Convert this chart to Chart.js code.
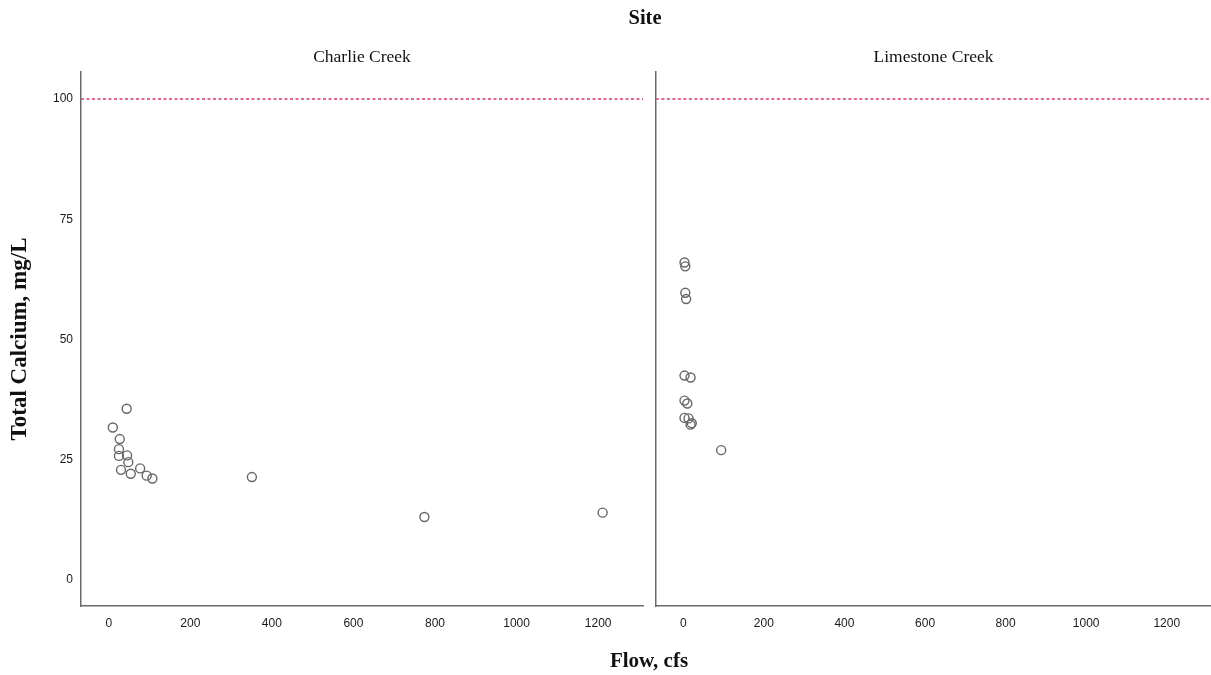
<!DOCTYPE html>
<html>
<head>
<meta charset="utf-8">
<title>Total Calcium vs Flow by Site</title>
<script src="https://cdn.jsdelivr.net/npm/chart.js@4.4.1/dist/chart.umd.min.js"></script>
<style>
  html, body { margin: 0; padding: 0; background: #fff; }
  #wrap { position: relative; width: 1211px; height: 675px; overflow: hidden; }
  canvas { position: absolute; top: 0; }
  #cv1 { left: 0; }
  #cv2 { left: 650px; }
  .lbl { position: absolute; font-family: "Liberation Serif", "Times New Roman", serif; font-weight: bold; font-size: 20.5px; color: #111; text-align: center; white-space: nowrap; }
  #siteLbl { left: 545px; width: 200px; top: 6px; }
  #flowLbl { left: 549px; width: 200px; top: 648px; font-size: 21px; }
</style>
</head>
<body>
<div id="wrap">
  <canvas id="cv1" width="650" height="675"></canvas>
  <canvas id="cv2" width="567" height="675"></canvas>
  <div class="lbl" id="siteLbl">Site</div>
  <div class="lbl" id="flowLbl">Flow, cfs</div>
</div>
<script>
// Flow (cfs) and total calcium (mg/L) per sample, by site
const charlieFlow      = [44, 10, 27, 25, 25, 45, 48, 30, 54, 77, 93, 107, 351, 774, 1211];
const charlieCalcium   = [35.6, 31.7, 29.3, 27.2, 25.8, 25.9, 24.5, 22.9, 22.1, 23.2, 21.7, 21.1, 21.4, 13.1, 14.0];
const limestoneFlow    = [3, 5, 5, 7, 3, 18, 3, 10, 3, 13, 18, 21, 94];
const limestoneCalcium = [66.0, 65.2, 59.7, 58.4, 42.5, 42.1, 37.3, 36.7, 33.7, 33.6, 32.3, 32.6, 27.0];

const siteNames = ["Charlie Creek", "Limestone Creek"];
const calciumLimit = 100;

const xTicks = [0, 200, 400, 600, 800, 1000, 1200];
const yTicks = [0, 25, 50, 75, 100];
const xRange = [-68, 1310];
const yRange = [-5.4, 105.6];

const tickFont = { family: "'Liberation Sans', Arial, sans-serif", size: 12 };
const borderStyle = { display: true, color: '#6a6a6a', width: 1.5 };

// Draws the site name centred above each panel's plot area
const panelTitle = {
  id: 'panelTitle',
  afterDraw(chart, args, opts) {
    const { ctx, chartArea } = chart;
    ctx.save();
    ctx.font = "17.5px 'Liberation Serif', 'Times New Roman', serif";
    ctx.fillStyle = '#111';
    ctx.textAlign = 'center';
    ctx.textBaseline = 'middle';
    ctx.fillText(opts.text, (chartArea.left + chartArea.right) / 2, 57);
    ctx.restore();
  }
};

function pairs(xs, ys) {
  return xs.map((x, i) => ({ x: x, y: ys[i] }));
}

// Remove the extra room Chart.js reserves for overhanging tick labels
function noLabelPadding(scale) {
  scale.paddingLeft = 0;
  scale.paddingRight = 0;
  scale.paddingTop = 0;
  scale.paddingBottom = 0;
}

function makePanel(canvasId, name, flow, calcium, showYAxis) {
  return new Chart(document.getElementById(canvasId), {
    type: 'scatter',
    data: {
      datasets: [
        {
          label: name,
          data: pairs(flow, calcium),
          pointStyle: 'circle',
          pointRadius: 4.5,
          pointHoverRadius: 4.5,
          pointBorderWidth: 1.4,
          borderColor: '#666',
          backgroundColor: 'rgba(255,255,255,0)'
        },
        {
          type: 'line',
          label: 'Limit',
          data: [{ x: xRange[0], y: calciumLimit }, { x: xRange[1], y: calciumLimit }],
          borderColor: '#e2688d',
          borderWidth: 2,
          borderDash: [3, 2.5],
          pointRadius: 0,
          fill: false
        }
      ]
    },
    options: {
      responsive: false,
      animation: false,
      events: [],
      layout: { padding: { left: 0, right: showYAxis ? 7 : 0, top: 72, bottom: 39 } },
      plugins: {
        legend: { display: false },
        tooltip: { enabled: false },
        panelTitle: { text: name }
      },
      scales: {
        x: {
          type: 'linear',
          min: xRange[0],
          max: xRange[1],
          grid: { display: false, drawTicks: false },
          border: borderStyle,
          afterBuildTicks(scale) { scale.ticks = xTicks.map(v => ({ value: v })); },
          afterFit(scale) { scale.height = 30; noLabelPadding(scale); },
          ticks: {
            font: tickFont, color: '#1a1a1a', padding: 10, maxRotation: 0, autoSkip: false,
            callback: v => String(v)
          }
        },
        y: {
          type: 'linear',
          min: yRange[0],
          max: yRange[1],
          grid: { display: false, drawTicks: false },
          border: borderStyle,
          afterBuildTicks(scale) { scale.ticks = yTicks.map(v => ({ value: v })); },
          afterFit(scale) { scale.width = showYAxis ? 81 : 5; noLabelPadding(scale); },
          ticks: { display: showYAxis, font: tickFont, color: '#1a1a1a', padding: 8, callback: v => String(v) },
          title: {
            display: showYAxis,
            text: 'Total Calcium, mg/L',
            color: '#111',
            font: { family: "'Liberation Serif', 'Times New Roman', serif", size: 23, weight: 'bold' },
            padding: { top: 6, bottom: 0 }
          }
        }
      }
    },
    plugins: [panelTitle]
  });
}

makePanel('cv1', siteNames[0], charlieFlow, charlieCalcium, true);
makePanel('cv2', siteNames[1], limestoneFlow, limestoneCalcium, false);
</script>
</body>
</html>
